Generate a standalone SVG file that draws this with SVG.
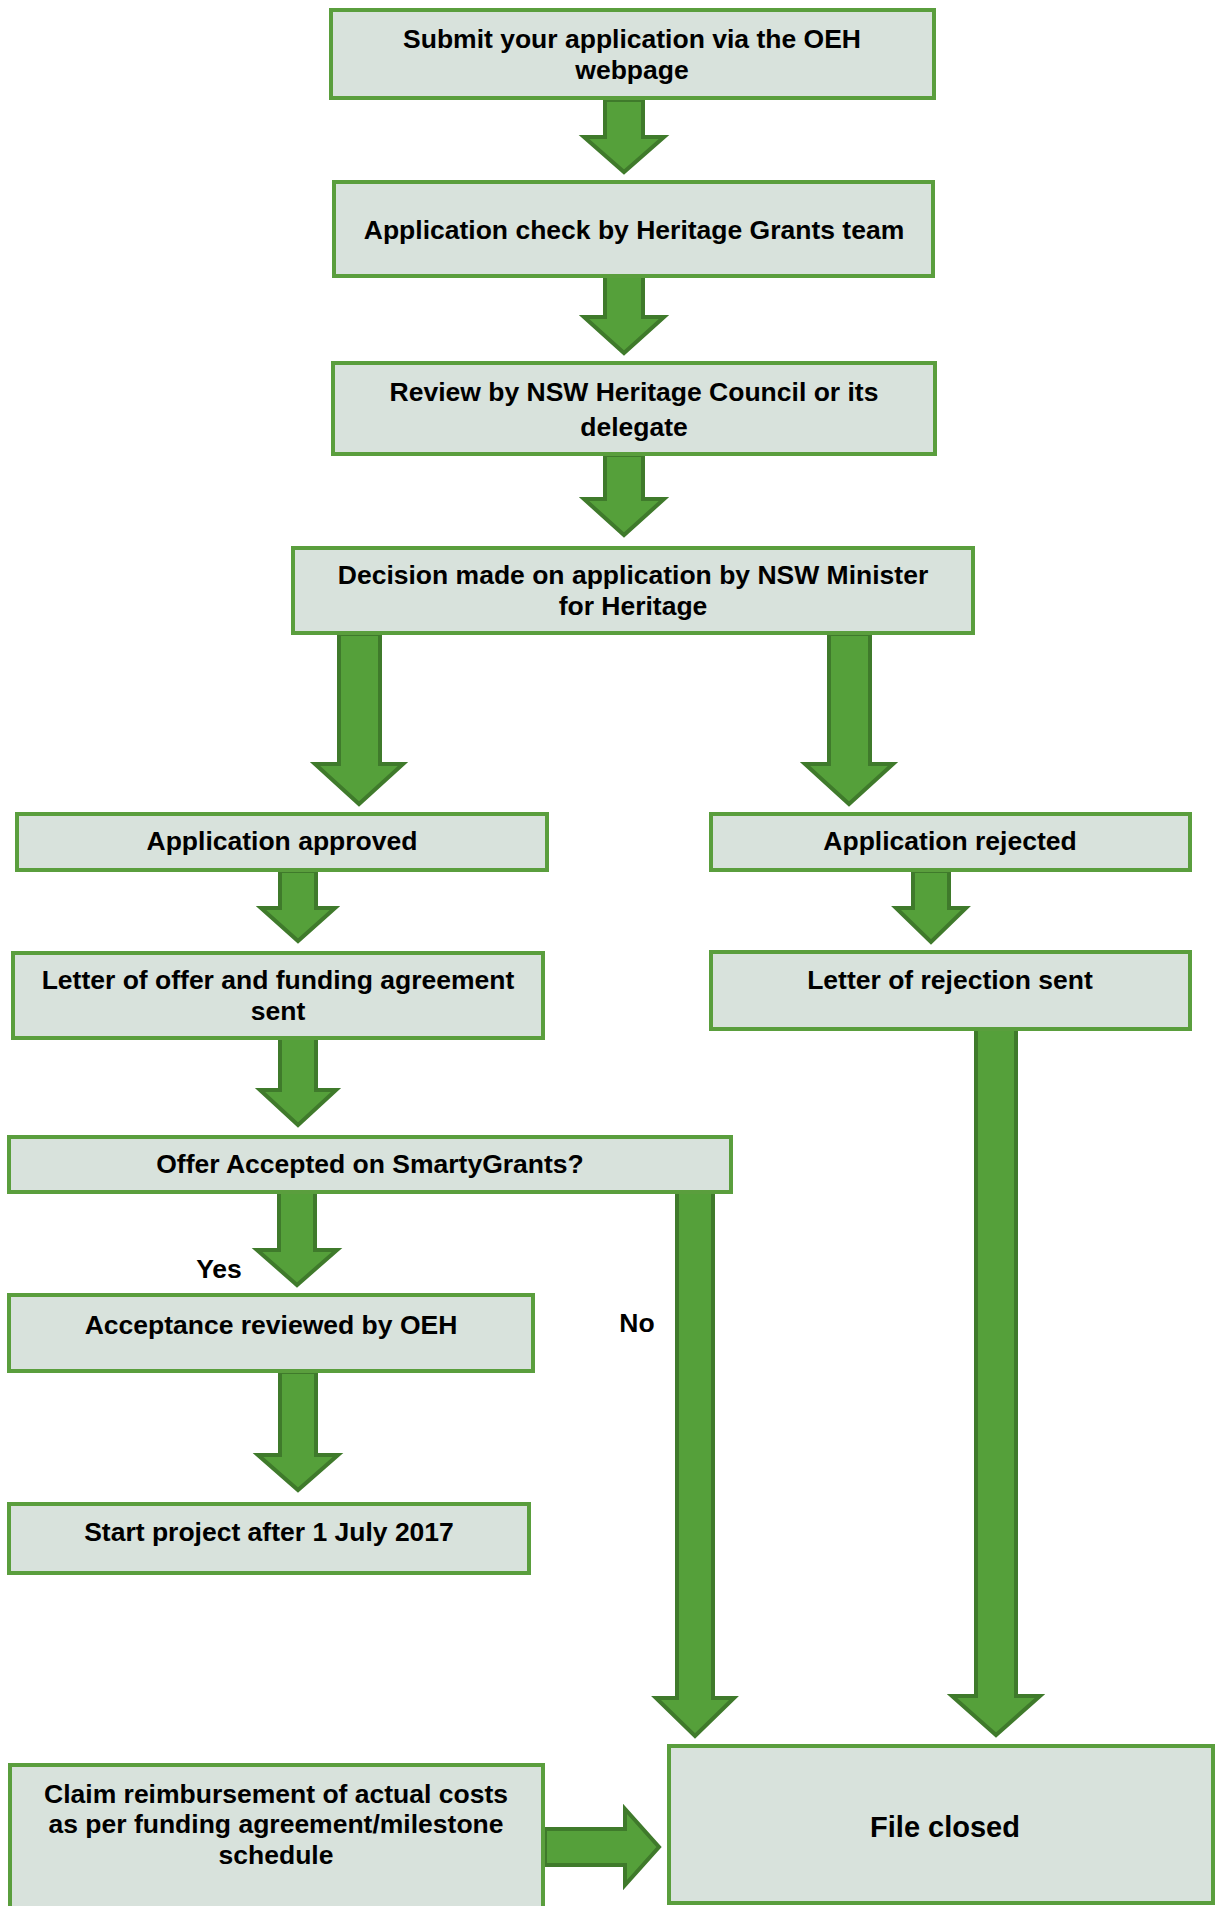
<svg xmlns="http://www.w3.org/2000/svg" width="1216" height="1906" viewBox="0 0 1216 1906">
<style>
.box{fill:#d8e2dc;stroke:#5a9e3d;stroke-width:4}
.arr{fill:#55a03a;stroke:#3f7a2b;stroke-width:4;stroke-linejoin:miter}
text{font-family:"Liberation Sans",Arial,sans-serif;font-weight:bold;font-size:26.5px;fill:#000;text-anchor:middle}
</style>
<rect width="1216" height="1906" fill="#fff"/>
<g id="connectors">
<polygon class="arr" points="605,100 643,100 643,137 664,137 624,172 584,137 605,137"/>
<polygon class="arr" points="605,276 643,276 643,317 664,317 624,353 584,317 605,317"/>
<polygon class="arr" points="605,455 643,455 643,499 664,499 624,535 584,499 605,499"/>
<polygon class="arr" points="339,634 380,634 380,764 403,764 359,804 315,764 339,764"/>
<polygon class="arr" points="829,634 870,634 870,764 893,764 849,804 805,764 829,764"/>
<polygon class="arr" points="280,871 316,871 316,908 335,908 298,941 261,908 280,908"/>
<polygon class="arr" points="913,871 949,871 949,908 966,908 931,942 896,908 913,908"/>
<polygon class="arr" points="280,1038 316,1038 316,1090 336,1090 298,1125 260,1090 280,1090"/>
<polygon class="arr" points="279,1192 315,1192 315,1250 337,1250 297,1285 257,1250 279,1250"/>
<polygon class="arr" points="677,1192 713,1192 713,1698 734,1698 695,1736 656,1698 677,1698"/>
<polygon class="arr" points="280,1372 316,1372 316,1455 338,1455 298,1490 258,1455 280,1455"/>
<polygon class="arr" points="976,1029 1016,1029 1016,1696 1040,1696 996,1735 952,1696 976,1696"/>
<polygon class="arr" points="545,1829 625,1829 625,1809 659,1847 625,1885 625,1865 545,1865"/>
<text x="219" y="1278">Yes</text>
<text x="637" y="1332">No</text>
</g>
<g id="n1"><rect class="box" x="331" y="10" width="603" height="88"/><text x="632" y="48">Submit your application via the OEH</text><text x="632" y="79">webpage</text></g>
<g id="n2"><rect class="box" x="334" y="182" width="599" height="94"/><text x="634" y="239">Application check by Heritage Grants team</text></g>
<g id="n3"><rect class="box" x="333" y="363" width="602" height="91"/><text x="634" y="401">Review by NSW Heritage Council or its</text><text x="634" y="436">delegate</text></g>
<g id="n4"><rect class="box" x="293" y="548" width="680" height="85"/><text x="633" y="584">Decision made on application by NSW Minister</text><text x="633" y="615">for Heritage</text></g>
<g id="n5"><rect class="box" x="17" y="814" width="530" height="56"/><text x="282" y="850">Application approved</text></g>
<g id="n6"><rect class="box" x="711" y="814" width="479" height="56"/><text x="950" y="850">Application rejected</text></g>
<g id="n7"><rect class="box" x="13" y="953" width="530" height="85"/><text x="278" y="989">Letter of offer and funding agreement</text><text x="278" y="1020">sent</text></g>
<g id="n8"><rect class="box" x="711" y="952" width="479" height="77"/><text x="950" y="989">Letter of rejection sent</text></g>
<g id="n9"><rect class="box" x="9" y="1137" width="722" height="55"/><text x="370" y="1173">Offer Accepted on SmartyGrants?</text></g>
<g id="n10"><rect class="box" x="9" y="1295" width="524" height="76"/><text x="271" y="1334">Acceptance reviewed by OEH</text></g>
<g id="n11"><rect class="box" x="9" y="1504" width="520" height="69"/><text x="269" y="1541">Start project after 1 July 2017</text></g>
<g id="n12"><rect class="box" x="10" y="1765" width="533" height="160"/><text x="276" y="1803">Claim reimbursement of actual costs</text><text x="276" y="1833">as per funding agreement/milestone</text><text x="276" y="1864">schedule</text></g>
<g id="n13"><rect class="box" x="669" y="1746" width="544" height="157"/><text x="945" y="1837" style="font-size:29px">File closed</text></g>
</svg>
